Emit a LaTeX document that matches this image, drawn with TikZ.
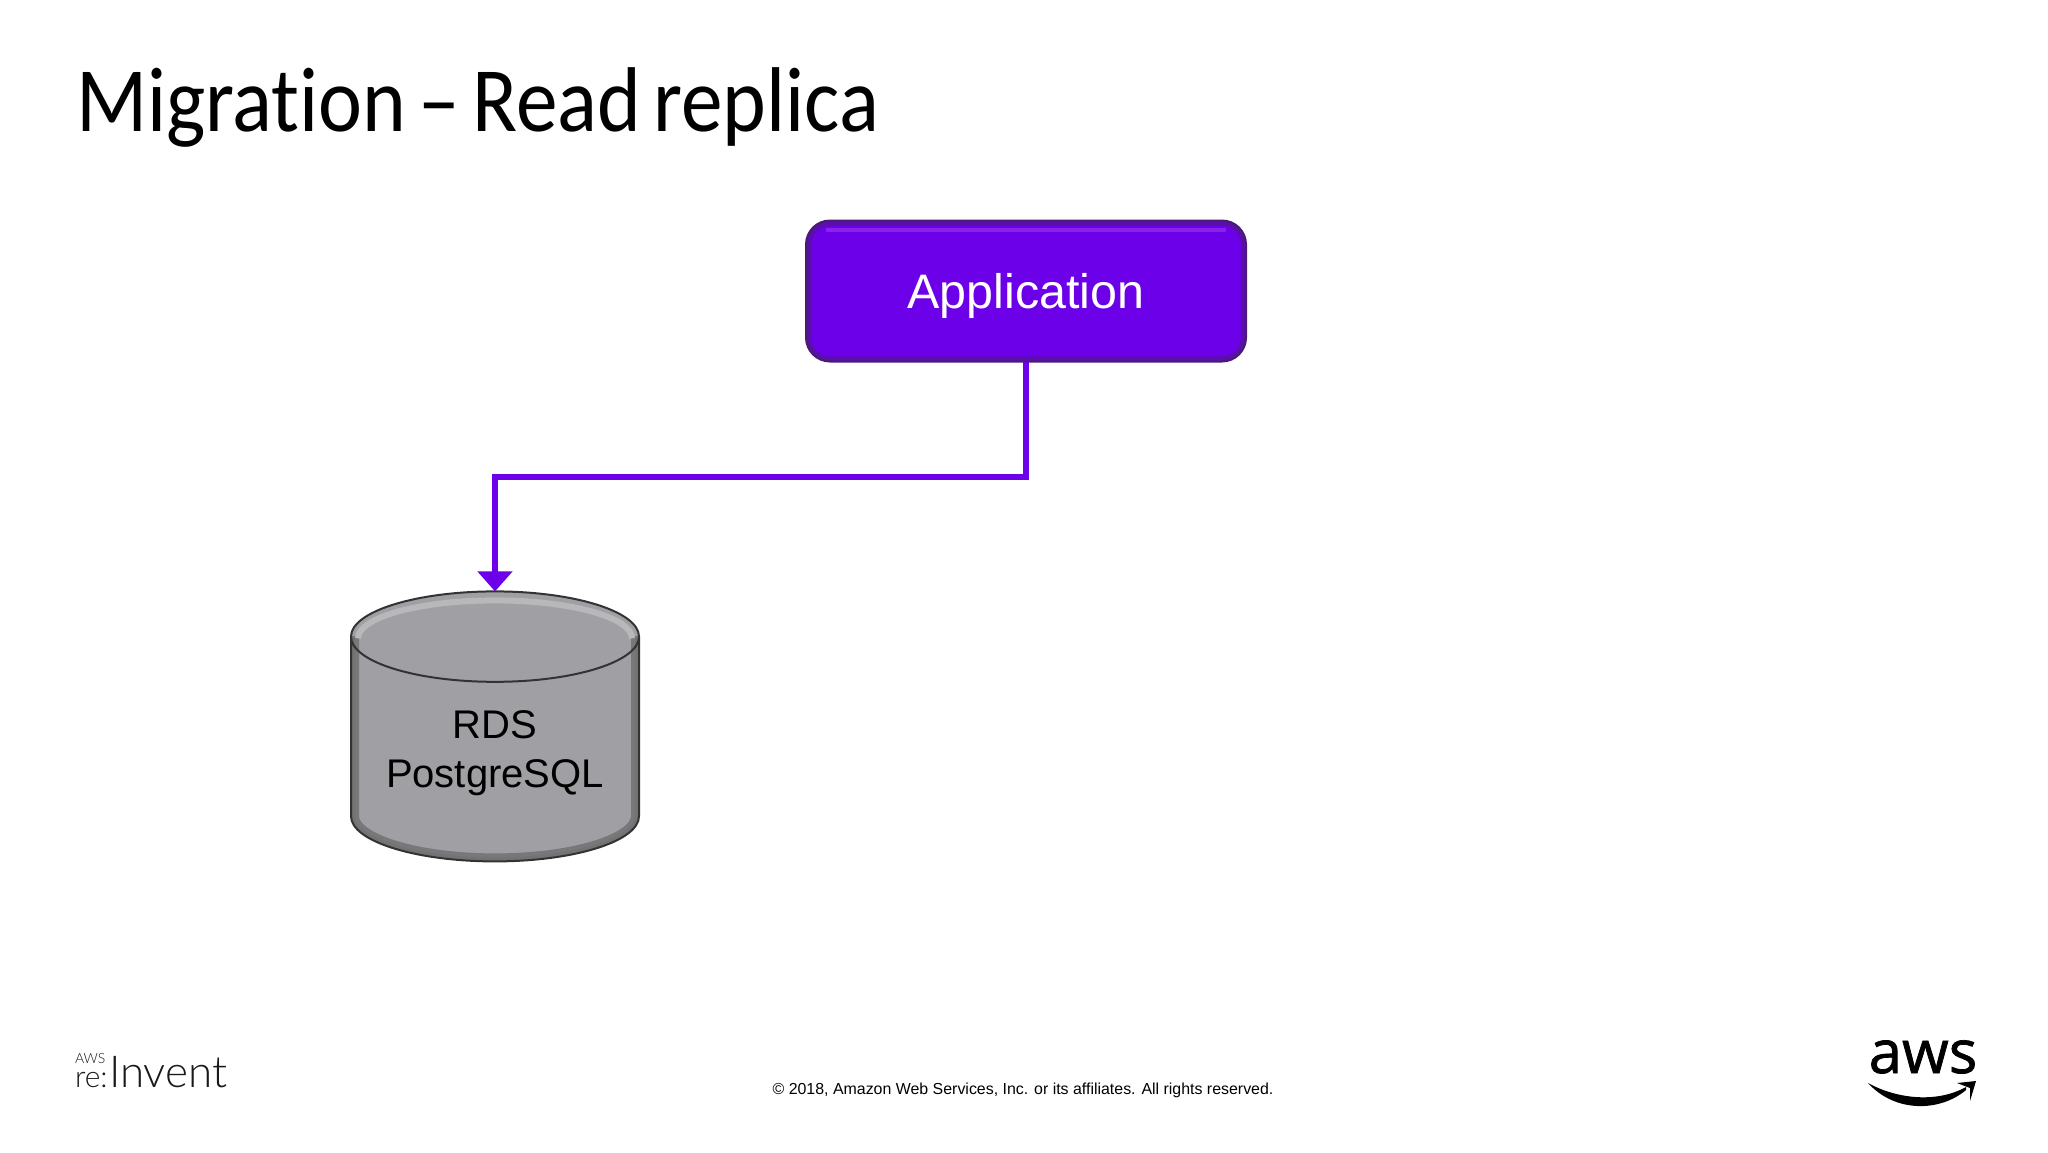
\documentclass[tikz,border=0pt]{standalone}
\usepackage{fontspec}
\setmainfont{Liberation Sans}
\newfontfamily\titlefont{Carlito}[Ligatures=NoCommon,WordSpace=0.65]
\newfontfamily\logofont{Lato Light}
\newfontfamily\awsfont{Open Sans}[FakeBold=1.2]
\usetikzlibrary{shapes.geometric,arrows.meta,calc}
\definecolor{awspurple}{HTML}{6C00E8}
\definecolor{awsedge}{HTML}{4B1A78}
\definecolor{awsglow}{HTML}{8A22EA}
\definecolor{dbgrey}{HTML}{A0A0A4}
\begin{document}
% 1 unit = 1 reference pixel, y pointing down
\begin{tikzpicture}[x=0.5pt,y=-0.5pt,
    every node/.style={inner sep=0pt,outer sep=0pt},
    title/.style={font=\titlefont\fontsize{46}{48}\selectfont,anchor=base west},
    footer/.style={font=\fontsize{7.96}{10}\selectfont,anchor=base},
    appbox/.style={rectangle,rounded corners=12pt,draw=awsedge,line width=1pt,fill=awspurple,
        minimum width=220pt,minimum height=70.5pt,text=white,
        font=\fontsize{24.2}{26}\selectfont,text height=17.5pt,text depth=0pt,
        path picture={
            \draw[line width=5pt,awsedge!60!awspurple,rounded corners=12pt]
                (path picture bounding box.south west) rectangle (path picture bounding box.north east);
            \draw[line width=2pt,color=awsglow]
                ($(path picture bounding box.north west)+(20,9)$) -- ($(path picture bounding box.north east)+(-20,9)$);
        }},
    dbedge/.style={line join=round},
    dbnode/.style={cylinder,shape border rotate=90,aspect=0.415,draw=black!80,line width=1pt,fill=dbgrey,
        minimum width=144pt,minimum height=135pt,align=center,
        font=\fontsize{20}{24.5}\selectfont,text depth=0pt,
        path picture={
            \draw[dbedge,line width=8pt,black!25!dbgrey] ($(path picture bounding box.west)+(0,-90)$)
                -- ($(path picture bounding box.west)+(0,90)$)
                arc[start angle=180,end angle=0,x radius=144,y radius=45]
                -- ($(path picture bounding box.east)+(0,-90)$);
            \draw[dbedge,line width=4pt,black!55] ($(path picture bounding box.west)+(0,-90)$)
                -- ($(path picture bounding box.west)+(0,90)$)
                arc[start angle=180,end angle=0,x radius=144,y radius=45]
                -- ($(path picture bounding box.east)+(0,-90)$);
            \draw[line width=3pt,white!25!dbgrey] ($(path picture bounding box.west)+(7,-88)$)
                arc[start angle=180,end angle=360,x radius=137,y radius=38];
        }},
    link/.style={line width=3pt,color=awspurple,line join=miter},
    tip/.style={-{Triangle[length=10pt,width=17pt]}}
]
\useasboundingbox (0,0) rectangle (2048,1152);

\node[title] (heading) at (76,131) {\scalebox{0.905}[1]{Migration – Read replica}};

\node[appbox] (app) at (1026,291) {Application};
\node[dbnode] (db) at (495,749.5) {RDS\\PostgreSQL};

\coordinate (turn) at (app.south |- 0,477);
\draw[link,tip] (app.south) -- (turn) -- (db.top |- turn) -- (db.top);

\node[footer] (copy) at (1023,1094) {© 2018, Amazon Web Services, Inc. or its affiliates. All rights reserved.};

% re:Invent mark
\node[anchor=base west,font=\logofont\fontsize{22}{24}\selectfont,text=black!90] (invent) at (109,1087) {Invent};
\node[anchor=base west,font=\logofont\fontsize{15}{16}\selectfont,text=black!90] (re) at (75,1087) {re:};
\node[anchor=base west,font=\logofont\fontsize{7}{8}\selectfont,text=black!90] (awssmall) at (75,1063) {AWS};

% aws mark
\node[anchor=base,font=\awsfont\fontsize{30}{32}\selectfont,text=black] (aws) at (1923,1073) {aws};
\fill[black] (1868,1083) .. controls (1895,1098) and (1935,1104) .. (1966,1087)
    -- (1966,1090) .. controls (1940,1112) and (1895,1113) .. (1868,1083) -- cycle;
\fill[black] (1957,1083) -- (1976,1081) -- (1970,1101) -- (1970,1088) -- cycle;
\end{tikzpicture}
\end{document}
